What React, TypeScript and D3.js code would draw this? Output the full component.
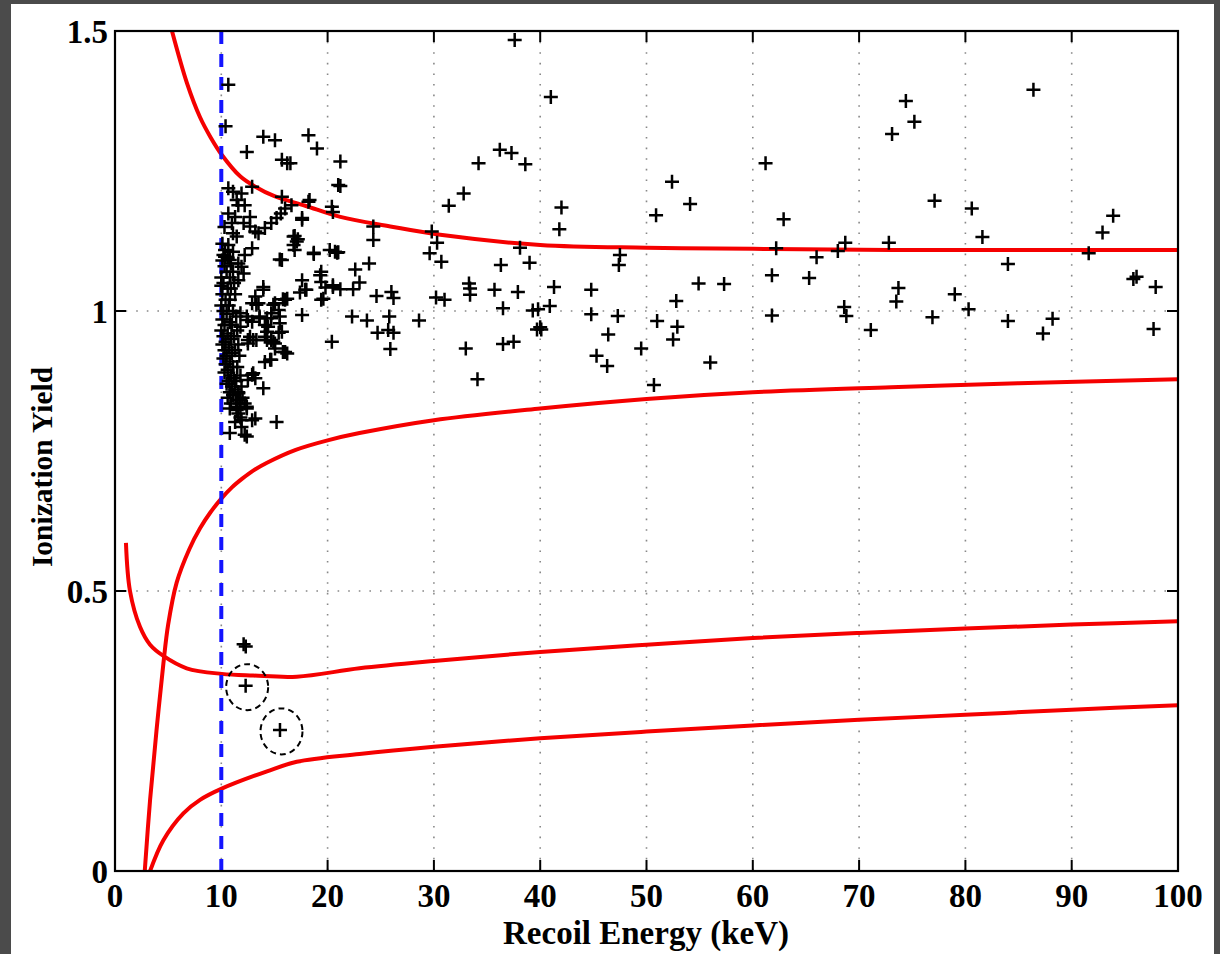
import React from "react";
import * as d3 from "d3";

// ---------- data ----------
const xTicks = [0, 10, 20, 30, 40, 50, 60, 70, 80, 90, 100];
const yTicks = [0, 0.5, 1, 1.5];
const yTickLabels = ["0", "0.5", "1", "1.5"];
const thresholdKeV = 10;

// electron-recoil band (upper / lower)
const erUpper: [number, number][] = [
  [5.36, 1.5], [6.77, 1.407], [8.0, 1.346], [9.0, 1.31], [10.04, 1.279], [11.8, 1.24],
  [13.2, 1.222], [15.0, 1.205], [17.9, 1.188], [21.2, 1.168], [25.9, 1.151], [30.6, 1.136],
  [40, 1.118], [50, 1.113], [60, 1.111], [73, 1.109], [100, 1.109],
];
const erLower: [number, number][] = [
  [2.8, 0], [3.3, 0.127], [3.9, 0.25], [4.55, 0.37], [5.0, 0.44], [5.8, 0.515],
  [7.0, 0.575], [8.0, 0.612], [9.0, 0.641], [10.0, 0.665], [11.0, 0.685], [12.0, 0.701],
  [13.0, 0.715], [14.3, 0.729], [17, 0.752], [20, 0.769], [23, 0.782], [30, 0.805],
  [40, 0.826], [50, 0.843], [60, 0.855], [73, 0.864], [85, 0.871], [100, 0.878],
];
// nuclear-recoil band (upper / lower)
const nrUpper: [number, number][] = [
  [1.03, 0.586], [1.41, 0.5], [2.35, 0.436], [3.3, 0.404], [4.55, 0.384], [6.74, 0.362],
  [10.04, 0.352], [13, 0.349], [17.1, 0.347], [23, 0.362], [30, 0.375], [40, 0.391],
  [50, 0.404], [60, 0.416], [70, 0.425], [80, 0.433], [90, 0.44], [100, 0.446],
];
const nrLower: [number, number][] = [
  [3.3, 0], [4.55, 0.055], [6.43, 0.103], [8.0, 0.127], [10.04, 0.147], [14.3, 0.178],
  [17.1, 0.195], [23, 0.209], [30, 0.222], [40, 0.237], [50, 0.249], [60, 0.26],
  [70, 0.27], [80, 0.279], [90, 0.288], [100, 0.296],
];

const events: [number, number][] = [
  // sparse, higher energies
  [37.6, 1.484], [41.0, 1.382], [86.4, 1.395], [74.4, 1.375], [75.2, 1.338], [73.1, 1.316],
  [36.2, 1.288], [37.3, 1.282], [38.6, 1.262], [34.2, 1.264], [32.8, 1.21], [31.4, 1.188],
  [61.2, 1.264], [52.4, 1.231], [54.1, 1.191], [50.9, 1.171], [42.0, 1.185], [41.8, 1.146], [62.9, 1.164],
  [47.5, 1.1], [47.4, 1.082], [62.2, 1.112], [68.7, 1.122], [68.0, 1.107], [72.8, 1.122], [66.0, 1.096],
  [61.8, 1.064], [65.3, 1.059], [41.3, 1.043], [44.8, 1.038], [54.9, 1.049], [57.3, 1.048], [52.8, 1.018],
  [40.9, 1.009], [40.1, 0.967], [44.8, 0.994], [47.3, 0.991], [51.0, 0.982], [52.9, 0.972], [52.5, 0.949],
  [46.4, 0.958], [45.3, 0.92], [46.3, 0.902], [49.5, 0.933], [50.7, 0.868], [56.0, 0.908], [61.8, 0.992],
  [68.6, 1.007], [68.8, 0.991], [71.1, 0.966],
  [77.1, 1.197], [80.6, 1.183], [81.6, 1.132], [93.9, 1.17], [92.9, 1.14], [91.6, 1.103], [84.0, 1.084],
  [73.7, 1.041], [73.5, 1.017], [79.0, 1.03], [80.3, 1.003], [76.9, 0.989], [84.0, 0.982], [88.2, 0.986],
  [87.3, 0.96], [95.8, 1.057], [96.1, 1.061], [97.9, 1.043], [97.7, 0.968],
  // 20 - 40 keV
  [24.3, 1.151], [24.3, 1.127], [29.8, 1.142], [30.3, 1.122], [29.6, 1.103], [30.7, 1.088], [38.1, 1.113],
  [39.0, 1.086], [36.3, 1.082], [20.7, 1.106], [21.0, 1.105], [22.6, 1.074], [23.9, 1.085],
  [20.5, 1.046], [21.2, 1.039], [22.4, 1.039], [23.0, 1.051], [24.6, 1.027], [26.0, 1.034], [26.2, 1.023],
  [30.2, 1.024], [31.0, 1.02], [33.3, 1.049], [33.4, 1.04], [33.4, 1.029], [35.7, 1.038], [37.9, 1.034],
  [39.3, 1.001], [39.8, 1.003], [39.7, 0.967], [40.0, 0.971], [36.5, 1.005],
  [22.3, 0.99], [23.7, 0.983], [24.7, 0.961], [25.8, 0.99], [25.7, 0.966], [26.2, 0.961], [25.9, 0.932],
  [28.6, 0.983], [20.4, 0.945], [33.0, 0.933], [34.1, 0.878], [36.5, 0.941], [37.5, 0.945],
  [21.2, 1.223], [18.3, 1.198], [20.5, 1.177], [17.6, 1.166],
  // 12 - 20 keV
  [13.2, 1.142], [12.9, 1.112], [15.5, 1.092], [16.9, 1.134], [16.8, 1.118], [17.2, 1.128], [18.7, 1.102],
  [20.2, 1.109], [19.4, 1.07], [19.4, 1.052], [19.8, 1.042], [19.6, 1.022], [17.6, 1.055], [18.0, 1.038], [17.4, 1.033],
  [13.95, 1.043], [13.2, 1.026], [13.3, 1.011], [14.9, 1.011], [15.8, 1.021], [16.2, 1.022], [17.6, 0.993],
  [12.4, 0.99], [13.6, 0.99], [14.3, 0.987], [15.5, 0.99], [14.4, 0.972], [15.4, 0.961],
  [12.7, 0.954], [14.1, 0.954], [14.7, 0.948], [15.05, 0.942], [15.8, 0.927], [16.2, 0.924], [14.6, 0.913], [13.0, 0.889],
  [10.66, 1.404], [10.4, 1.33], [13.95, 1.311], [15.05, 1.305], [18.2, 1.314], [19.0, 1.29], [12.4, 1.284],
  [15.7, 1.27], [16.2, 1.264], [16.5, 1.264], [21.2, 1.267], [21.0, 1.225],
  [10.66, 1.219], [11.1, 1.213], [11.9, 1.21], [11.45, 1.198], [11.6, 1.189], [12.2, 1.189], [12.9, 1.222],
  [15.7, 1.204], [16.6, 1.189], [18.2, 1.195], [17.6, 1.163], [20.4, 1.186],
  [10.66, 1.174], [11.3, 1.168], [11.0, 1.157], [12.7, 1.168], [12.1, 1.157], [12.7, 1.151],
  [14.7, 1.157], [15.2, 1.166], [15.6, 1.174], [16.0, 1.183], [14.1, 1.148], [13.5, 1.139],
  [11.1, 1.139], [11.45, 1.133], [12.2, 1.1], [16.8, 1.133], [17.1, 1.124], [16.9, 1.109],
  [15.7, 1.091], [18.7, 1.104], [20.9, 1.104], [10.35, 1.109], [10.35, 1.097], [10.8, 1.091], [11.6, 1.085],
  [11.9, 1.079], [12.1, 1.067], [11.6, 1.055], [13.95, 1.038], [13.5, 1.014], [15.05, 1.014], [16.0, 1.02],
  [14.7, 0.996], [15.4, 1.002], [17.9, 1.038], [19.3, 1.064], [20.5, 1.043], [19.4, 1.02],
  [12.9, 0.981], [13.6, 0.987], [14.7, 0.987], [14.1, 0.975], [15.5, 0.978], [15.7, 0.963], [14.3, 0.963],
  [12.5, 0.948], [13.3, 0.948], [14.3, 0.948], [14.9, 0.945], [15.05, 0.933], [16.0, 0.927], [14.7, 0.913],
  [12.9, 0.886], [13.2, 0.88], [13.95, 0.862], [12.2, 0.835], [12.4, 0.826], [12.9, 0.805], [13.2, 0.808],
  [15.2, 0.802], [10.8, 0.782], [12.2, 0.779], [11.6, 0.817], [11.9, 0.805], [11.9, 0.793],
  [10.8, 0.826], [11.45, 0.829], [12.4, 0.829], [11.3, 0.802], [11.8, 0.81],
  [12.9, 1.014], [11.8, 0.996], [12.5, 0.984], [11.8, 0.972], [13.0, 0.948], [12.5, 0.942], [14.1, 0.909],
  [12.5, 0.877], [11.6, 0.853], [11.8, 0.841], [11.45, 0.823], [12.4, 0.776], [10.66, 1.118], [11.1, 1.106],
  // dense cluster just above threshold
  [10.1, 1.09], [10.3, 1.08], [10.0, 1.06], [10.5, 1.07], [10.2, 1.05], [10.6, 1.04], [10.1, 1.03],
  [10.4, 1.02], [10.0, 1.01], [10.7, 1.01], [10.2, 1.0], [10.5, 0.995], [10.1, 0.985], [10.8, 0.98],
  [10.3, 0.975], [10.0, 0.965], [10.6, 0.96], [10.2, 0.955], [10.9, 0.95], [10.4, 0.945], [10.1, 0.94],
  [10.7, 0.935], [10.3, 0.93], [11.0, 0.925], [10.5, 0.92], [10.2, 0.915], [10.8, 0.91], [10.4, 0.905],
  [11.1, 0.9], [10.6, 0.895], [10.3, 0.89], [10.9, 0.885], [11.2, 0.88], [10.7, 0.875], [10.5, 0.87],
  [11.0, 0.865], [11.3, 0.86], [10.8, 0.855], [11.1, 0.85], [10.6, 0.845], [11.4, 0.84], [10.9, 0.835],
  [10.2, 1.1], [10.6, 1.095], [10.9, 1.085], [11.1, 1.07], [10.8, 1.06], [11.2, 1.05], [10.9, 1.04],
  [11.3, 1.03], [10.8, 1.02], [11.1, 1.0], [11.4, 0.99], [11.0, 0.975], [11.5, 0.965], [11.2, 0.955],
  [11.6, 0.94], [11.3, 0.93], [11.7, 0.92], [11.5, 0.9], [11.8, 0.885], [11.4, 0.875], [11.9, 0.865],
  [11.6, 0.855], [12.0, 0.845], [11.7, 0.835], [10.1, 1.12], [10.3, 1.15], [10.0, 1.045],
  // low-yield events
  [12.1, 0.405], [12.3, 0.401],
];
const circledEvents: [number, number][] = [[12.29, 0.331], [15.52, 0.252]];

// ---------- layout ----------
const W = 1220, H = 954;
const x = d3.scaleLinear().domain([0, 100]).range([115, 1178]);
const y = d3.scaleLinear().domain([0, 1.5]).range([871, 31]);
const FONT = "'Liberation Serif', 'Times New Roman', serif";

const line = d3.line<[number, number]>()
  .x((d) => x(d[0]))
  .y((d) => y(d[1]))
  .curve(d3.curveCatmullRom.alpha(0.5));

const Plus = ({ cx, cy }: { cx: number; cy: number }) => (
  <path d={`M${cx - 7},${cy}H${cx + 7}M${cx},${cy - 7}V${cy + 7}`} stroke="#000" strokeWidth={2.5} />
);

export default function App() {
  const [x0, x1] = x.range();
  const [y0, y1] = y.range();
  return (
    <div style={{ position: "absolute", left: 0, top: 0 }}>
      <svg width={W} height={H} style={{ display: "block" }}>
        <rect x={0} y={0} width={W} height={H} fill="#4b4b4b" />
        <rect x={11} y={4} width={1203} height={H - 4} fill="#fff" />
        {/* grid */}
        {xTicks.filter((t) => t > 0 && t < 100).map((t) => (
          <line key={"gx" + t} x1={x(t)} x2={x(t)} y1={y1} y2={y0} stroke="#888" strokeWidth={1.6} strokeDasharray="1.6,9" />
        ))}
        {yTicks.filter((t) => t > 0 && t < 1.5).map((t) => (
          <line key={"gy" + t} x1={x0} x2={x1} y1={y(t)} y2={y(t)} stroke="#888" strokeWidth={1.6} strokeDasharray="1.6,9" />
        ))}
        {/* ticks (inward, all sides) */}
        {xTicks.map((t) => (
          <g key={"tx" + t}>
            <line x1={x(t)} x2={x(t)} y1={y0} y2={y0 - 11} stroke="#000" strokeWidth={2} />
            <line x1={x(t)} x2={x(t)} y1={y1} y2={y1 + 11} stroke="#000" strokeWidth={2} />
          </g>
        ))}
        {yTicks.map((t) => (
          <g key={"ty" + t}>
            <line x1={x0} x2={x0 + 11} y1={y(t)} y2={y(t)} stroke="#000" strokeWidth={2} />
            <line x1={x1} x2={x1 - 11} y1={y(t)} y2={y(t)} stroke="#000" strokeWidth={2} />
          </g>
        ))}
        {/* curves */}
        <defs>
          <clipPath id="plotclip">
            <rect x={x0} y={y1} width={x1 - x0} height={y0 - y1} />
          </clipPath>
        </defs>
        <g clipPath="url(#plotclip)" fill="none" stroke="#f50000" strokeWidth={4}>
          <path d={line(erUpper) || ""} />
          <path d={line(erLower) || ""} />
          <path d={line(nrUpper) || ""} />
          <path d={line(nrLower) || ""} />
        </g>
        {/* threshold */}
        <line x1={x(thresholdKeV)} x2={x(thresholdKeV)} y1={y1} y2={y0} stroke="#1414ff" strokeWidth={4} strokeDasharray="13,10" />
        {/* events */}
        {events.map((d, i) => (
          <Plus key={"e" + i} cx={x(d[0])} cy={y(d[1])} />
        ))}
        {circledEvents.map((d, i) => (
          <g key={"c" + i}>
            <Plus cx={x(d[0])} cy={y(d[1])} />
            <ellipse cx={x(d[0]) + 1.5} cy={y(d[1]) + 1.5} rx={21} ry={23} fill="none" stroke="#000" strokeWidth={2} strokeDasharray="6,4" />
          </g>
        ))}
        {/* frame */}
        <rect x={x0} y={y1} width={x1 - x0} height={y0 - y1} fill="none" stroke="#000" strokeWidth={2.2} />
        {/* tick labels */}
        {xTicks.map((t) => (
          <text key={"lx" + t} x={x(t)} y={907} textAnchor="middle" fontFamily={FONT} fontWeight="bold" fontSize={33}>{t}</text>
        ))}
        {yTicks.map((t, i) => (
          <text key={"ly" + t} x={108} y={y(t) + 12} textAnchor="end" fontFamily={FONT} fontWeight="bold" fontSize={33}>{yTickLabels[i]}</text>
        ))}
        <text x={646} y={944} textAnchor="middle" fontFamily={FONT} fontWeight="bold" fontSize={33}>Recoil Energy (keV)</text>
        <text transform={`translate(52,${467}) rotate(-90)`} textAnchor="middle" fontFamily={FONT} fontWeight="bold" fontSize={29.5}>Ionization Yield</text>
      </svg>
    </div>
  );
}
